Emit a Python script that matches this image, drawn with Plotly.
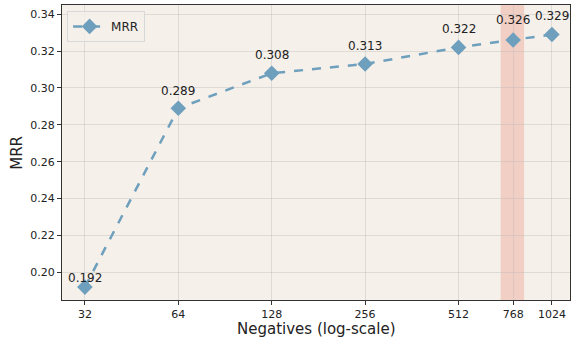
import plotly.graph_objects as go
import numpy as np

negatives = [32, 64, 128, 256, 512, 768, 1024]
mrr = [0.192, 0.289, 0.308, 0.313, 0.322, 0.326, 0.329]
tick_vals = [32, 64, 128, 256, 512, 768, 1024]
tick_text = ["32", "64", "128", "256", "512", "768", "1024"]
y_ticks = [0.20, 0.22, 0.24, 0.26, 0.28, 0.30, 0.32, 0.34]
band = [700, 833]
label_shift = [9, 17, 18, 18, 18, 20, 19]

line_color = "#6e9fbd"
fig = go.Figure()
fig.add_vrect(x0=band[0], x1=band[1], fillcolor="#f0c4b8", opacity=0.75, line_width=0, layer="below")
fig.add_trace(go.Scatter(
    x=negatives, y=mrr, mode="lines+markers", name="MRR",
    line=dict(color=line_color, width=2.5, dash="dash"),
    marker=dict(symbol="diamond", size=12, color=line_color),
    cliponaxis=False,
))
annotations = [
    dict(x=np.log10(xv), y=yv, text=f"{yv:.3f}", xref="x", yref="y", showarrow=False,
         yshift=s, xanchor="center", yanchor="middle",
         font=dict(family="DejaVu Sans", size=12, color="#222"))
    for xv, yv, s in zip(negatives, mrr, label_shift)
]
annotations += [
    dict(text="Negatives (log-scale)", xref="paper", yref="paper", x=0.5, y=-0.06,
         xanchor="center", yanchor="top", showarrow=False, font=dict(size=15)),
    dict(text="MRR", xref="paper", yref="paper", x=-0.09, y=0.5, textangle=-90,
         xanchor="center", yanchor="middle", showarrow=False, font=dict(size=15)),
]
axis_common = dict(showline=True, linecolor="#333", linewidth=1.2, mirror=True,
                   showgrid=True, gridcolor="rgba(180,180,180,0.35)", gridwidth=1,
                   ticks="outside", ticklen=4, tickcolor="#333", automargin=False,
                   tickfont=dict(family="DejaVu Sans", size=11, color="#222"), zeroline=False)
fig.update_layout(
    width=571, height=338,
    margin=dict(l=62, r=1, t=5, b=38),
    paper_bgcolor="white", plot_bgcolor="#f5f0ea",
    font=dict(family="DejaVu Sans", color="#222"),
    showlegend=True,
    legend=dict(x=0.01, y=0.98, xanchor="left", yanchor="top", itemwidth=33,
                bgcolor="rgba(245,240,234,0.8)", bordercolor="#d8d8d8", borderwidth=1,
                font=dict(size=12, family="DejaVu Sans")),
    xaxis=dict(type="log", range=[np.log10(27.0), np.log10(1171)], tickvals=tick_vals, ticktext=tick_text,
               **axis_common),
    yaxis=dict(range=[0.185, 0.345], tickvals=y_ticks, tickformat=".2f", **axis_common),
    annotations=annotations,
)
fig.write_html("out.html", config={"displayModeBar": False},
               post_script="document.body.style.margin='0';document.body.style.overflow='hidden';")
